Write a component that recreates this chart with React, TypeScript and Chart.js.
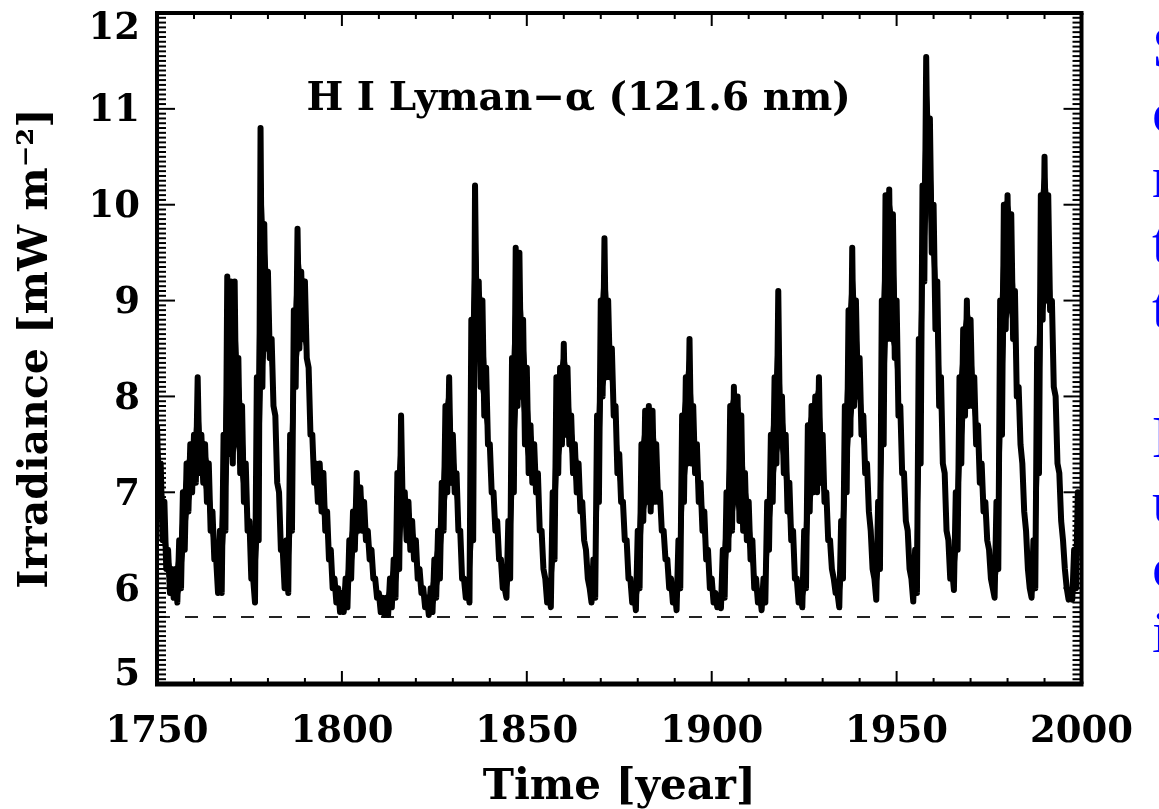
import React, { useEffect, useRef } from 'react';
import { Chart, registerables } from 'chart.js';

Chart.register(...registerables);

// ---- data ----
const START_YEAR = 1750;
// upper edge of the noisy trace, one value per year 1750..1999
const hiValues = [
  7.7, 7.3, 6.9, 6.4, 6.2, 6.2, 6.5, 7.0, 7.3, 7.5,
  7.6, 8.2, 7.6, 7.5, 7.3, 6.8, 6.3, 6.6, 7.6, 9.25,
  9.2, 9.2, 8.4, 7.9, 7.3, 6.7, 6.1, 8.2, 10.8, 9.8,
  9.3, 8.6, 7.8, 7.0, 6.4, 6.5, 7.6, 8.9, 9.75, 9.3,
  9.2, 8.3, 7.6, 7.3, 7.3, 7.2, 6.8, 6.4, 6.1, 6.0,
  5.95, 6.1, 6.5, 6.8, 7.2, 7.05, 6.9, 6.6, 6.4, 6.1,
  5.95, 5.9, 5.9, 6.1, 6.3, 7.2, 7.8, 7.0, 6.9, 6.7,
  6.5, 6.2, 6.0, 5.9, 6.0, 6.3, 6.6, 7.1, 7.9, 8.2,
  7.6, 7.2, 6.6, 6.1, 6.0, 8.8, 10.2, 9.2, 9.0, 8.3,
  7.5, 7.0, 6.7, 6.3, 6.0, 6.7, 8.4, 9.55, 9.5, 8.8,
  8.3, 7.7, 7.5, 7.2, 6.6, 6.1, 5.95, 7.0, 8.2, 8.3,
  8.55, 8.3, 7.8, 7.5, 7.3, 6.9, 6.4, 6.0, 6.3, 7.8,
  9.0, 9.65, 9.0, 8.5, 7.9, 7.4, 6.9, 6.5, 6.1, 5.95,
  6.6, 7.5, 7.85, 7.9, 7.85, 7.5, 7.0, 6.6, 6.3, 6.1,
  5.95, 6.5, 7.8, 8.2, 8.6, 7.9, 7.5, 7.1, 6.8, 6.4,
  6.1, 5.95, 5.9, 6.4, 7.0, 7.9, 8.1, 8.0, 7.8, 7.2,
  6.9, 6.5, 6.1, 5.95, 6.1, 6.9, 7.6, 8.2, 9.1, 8.0,
  7.6, 7.1, 6.6, 6.1, 5.95, 6.6, 7.7, 7.9, 8.0, 8.2,
  7.6, 7.0, 6.5, 6.1, 5.95, 6.7, 7.9, 8.9, 9.55, 9.0,
  8.4, 7.8, 7.3, 6.6, 6.1, 6.9, 9.0, 10.1, 10.16, 9.9,
  9.0, 7.9, 7.2, 6.6, 6.1, 6.4, 8.6, 10.2, 11.54, 10.9,
  10.0, 9.2, 8.2, 7.2, 6.5, 6.2, 7.0, 8.2, 8.7, 9.0,
  8.8, 8.2, 7.7, 7.3, 6.9, 6.4, 6.0, 6.9, 9.0, 10.0,
  10.1, 9.9, 9.1, 8.1, 7.3, 6.6, 6.0, 6.5, 8.5, 10.1,
  10.5, 10.1, 9.0, 8.0, 7.2, 6.5, 6.0, 5.95, 6.4, 7.0,
];
// lower edge of the noisy trace, one value per year (plotted half a year later)
const loValues = [
  7.0, 6.5, 6.2, 5.95, 5.9, 5.85, 6.0, 6.4, 6.8, 7.0,
  7.1, 7.2, 7.1, 6.9, 6.6, 6.3, 5.95, 5.95, 6.6, 7.4,
  7.3, 7.5, 7.2, 6.9, 6.6, 6.1, 5.85, 6.5, 8.1, 8.5,
  8.4, 7.9, 7.1, 6.4, 6.0, 5.95, 6.6, 8.1, 8.5, 8.6,
  8.4, 7.6, 7.1, 6.9, 6.8, 6.6, 6.3, 6.0, 5.85, 5.75,
  5.75, 5.8, 6.1, 6.4, 6.6, 6.6, 6.5, 6.3, 6.1, 5.9,
  5.75, 5.72, 5.72, 5.8, 5.9, 6.2, 6.7, 6.5, 6.4, 6.3,
  6.1, 5.95, 5.8, 5.72, 5.75, 5.9, 6.1, 6.6, 7.0, 7.1,
  7.0, 6.6, 6.1, 5.9, 5.85, 6.5, 8.5, 8.1, 7.8, 7.5,
  7.0, 6.6, 6.3, 6.0, 5.9, 6.1, 7.0, 7.9, 8.0, 7.5,
  7.2, 7.1, 7.0, 6.6, 6.2, 5.85, 5.8, 6.3, 7.2, 7.5,
  7.6, 7.5, 7.2, 7.0, 6.8, 6.5, 6.1, 5.85, 5.9, 6.9,
  8.0, 8.2, 8.2, 7.8, 7.2, 6.9, 6.5, 6.1, 5.85, 5.77,
  6.0, 6.7, 6.9, 6.8, 6.9, 6.9, 6.6, 6.3, 6.0, 5.85,
  5.77, 6.0, 6.9, 7.3, 7.3, 7.2, 6.9, 6.6, 6.3, 6.0,
  5.85, 5.8, 5.79, 5.9, 6.4, 6.6, 6.9, 6.7, 6.6, 6.5,
  6.3, 6.0, 5.85, 5.77, 5.85, 6.4, 6.9, 7.3, 7.5, 7.2,
  6.8, 6.5, 6.1, 5.85, 5.8, 6.0, 6.8, 7.0, 7.0, 7.1,
  6.9, 6.5, 6.2, 5.95, 5.8, 6.1, 7.0, 7.6, 7.9, 8.0,
  7.6, 7.2, 6.8, 6.2, 5.88, 6.2, 7.5, 8.6, 8.6, 8.4,
  7.8, 7.2, 6.7, 6.2, 5.86, 5.95, 7.3, 9.2, 10.0, 9.5,
  8.7, 7.9, 7.3, 6.6, 6.1, 5.98, 6.4, 7.3, 7.8, 7.9,
  7.9, 7.5, 7.1, 6.8, 6.5, 6.1, 5.9, 6.2, 7.6, 8.7,
  8.9, 8.6, 8.0, 7.5, 6.8, 6.2, 5.9, 6.0, 7.2, 8.8,
  9.0, 8.9, 8.1, 7.3, 6.7, 6.2, 5.88, 5.88, 6.0, 6.4,
];
const referenceLevel = 5.7; // dashed line
const xRange = [1750, 2000];
const yRange = [5, 12];
const xTickLabels = [1750, 1800, 1850, 1900, 1950, 2000];
const yTickLabels = [5, 6, 7, 8, 9, 10, 11, 12];
const panelLabel = 'H I Lyman\u2212\u03b1 (121.6 nm)';
const panelLabelAt = { year: 1790.4, level: 10.99 };
const xTitle = 'Time [year]';
const yTitle = 'Irradiance [mW m\u207b\u00b2]';
const sideText = ['Solar', 'cycle', 'reconstruction', 'the', 'the', '', 'Lyman', 'using', 'closely', 'index'];

const FONT = '"DejaVu Serif", serif';

const framePlugin = {
  id: 'idlFrame',
  afterDatasetsDraw(chart: any) {
    const { ctx, chartArea, scales } = chart;
    const { left, right, top, bottom } = chartArea;
    const x = scales.x;
    const y = scales.y;
    const seg = (x1: number, y1: number, x2: number, y2: number) => {
      ctx.beginPath();
      ctx.moveTo(x1, y1);
      ctx.lineTo(x2, y2);
      ctx.stroke();
    };
    ctx.save();
    ctx.strokeStyle = '#000';
    ctx.fillStyle = '#000';
    ctx.lineWidth = 2;
    // y minor/major ticks, inward on both sides
    for (let i = 0; i <= (yRange[1] - yRange[0]) * 20; i++) {
      const v = yRange[0] + i / 20;
      const py = y.getPixelForValue(v);
      const len = i % 20 === 0 ? 18 : 9;
      seg(left, py, left + len, py);
      seg(right, py, right - len, py);
    }
    // x ticks every 10 years
    for (let yr = xRange[0]; yr <= xRange[1]; yr += 10) {
      const px = x.getPixelForValue(yr);
      const len = yr % 50 === 0 ? 13 : 6;
      seg(px, bottom, px, bottom - len);
      seg(px, top, px, top + len);
    }
    // frame
    ctx.lineWidth = 4;
    seg(left - 2, top, right + 2, top);
    seg(left, top, left, bottom);
    seg(right, top, right, bottom);
    ctx.lineWidth = 5;
    seg(left - 2, bottom, right + 2, bottom);
    // y tick labels
    ctx.font = `bold 37px ${FONT}`;
    ctx.textAlign = 'right';
    ctx.textBaseline = 'middle';
    yTickLabels.forEach((v) => {
      let py = y.getPixelForValue(v) + 3;
      py = Math.min(Math.max(py, top + 16), bottom - 9);
      ctx.fillText(String(v), left - 17, py);
    });
    // panel label
    ctx.font = `bold 39px ${FONT}`;
    ctx.textAlign = 'left';
    ctx.textBaseline = 'alphabetic';
    ctx.fillText(panelLabel, x.getPixelForValue(panelLabelAt.year), y.getPixelForValue(panelLabelAt.level));
    ctx.restore();
  },
};

export default function App() {
  const ref = useRef<HTMLCanvasElement | null>(null);

  useEffect(() => {
    if (!ref.current) return;
    const hiPts = hiValues.map((h, i) => ({ x: START_YEAR + i, y: h }));
    const loPts = loValues.map((l, i) => ({ x: START_YEAR + i + 0.5, y: l }));
    const trace: { x: number; y: number }[] = [];
    hiPts.forEach((p, i) => {
      trace.push(p);
      trace.push(loPts[i]);
    });
    const chart = new Chart(ref.current, {
      type: 'line',
      data: {
        datasets: [
          {
            data: [
              { x: xRange[0], y: referenceLevel },
              { x: xRange[1], y: referenceLevel },
            ],
            borderColor: '#222',
            borderWidth: 2,
            borderDash: [13, 15],
            pointRadius: 0,
            fill: false,
            order: 4,
          },
          {
            data: hiPts,
            borderColor: '#000',
            borderWidth: 1,
            pointRadius: 0,
            fill: false,
            order: 3,
          },
          {
            data: loPts,
            borderColor: '#000',
            borderWidth: 1,
            pointRadius: 0,
            fill: '-1',
            backgroundColor: '#000',
            order: 2,
          },
          {
            data: trace,
            borderColor: '#000',
            borderWidth: 6,
            borderJoinStyle: 'round',
            pointRadius: 0,
            tension: 0,
            fill: false,
            order: 1,
          },
        ],
      },
      options: {
        responsive: false,
        animation: false,
        devicePixelRatio: 1,
        layout: { padding: { left: 0, right: 54, top: 13, bottom: 0 } },
        plugins: {
          legend: { display: false },
          tooltip: { enabled: false },
        },
        scales: {
          x: {
            type: 'linear',
            min: xRange[0],
            max: xRange[1],
            border: { display: false },
            grid: { display: false, drawTicks: false },
            ticks: {
              stepSize: 50,
              autoSkip: false,
              maxRotation: 0,
              padding: 26,
              color: '#000',
              font: { family: FONT, size: 37, weight: 'bold' },
              callback: (v: any) => (xTickLabels.includes(Number(v)) ? String(v) : ''),
            },
            title: {
              display: true,
              text: xTitle,
              color: '#000',
              font: { family: FONT, size: 42, weight: 'bold' },
              padding: { top: 0, bottom: -4 },
            },
            afterFit: (s: any) => {
              s.height = 125;
            },
          },
          y: {
            type: 'linear',
            min: yRange[0],
            max: yRange[1],
            border: { display: false },
            grid: { display: false, drawTicks: false },
            ticks: { display: false, stepSize: 1 },
            title: {
              display: true,
              text: yTitle,
              color: '#000',
              font: { family: FONT, size: 41, weight: 'bold' },
              padding: { top: 12, bottom: 0 },
            },
            afterFit: (s: any) => {
              s.width = 157;
            },
          },
        },
      },
      plugins: [framePlugin],
    } as any);
    return () => chart.destroy();
  }, []);

  return (
    <div
      style={{
        position: 'fixed',
        left: 0,
        top: 0,
        width: 1159,
        height: 809,
        overflow: 'hidden',
        background: '#fff',
      }}
    >
      <canvas ref={ref} width={1159} height={809} style={{ position: 'absolute', left: 0, top: 0, width: 1159, height: 809 }} />
      <div
        style={{
          position: 'absolute',
          left: 1152,
          top: 15,
          fontFamily: '"Liberation Serif", serif',
          fontSize: 60,
          lineHeight: '65px',
          color: '#0000ff',
          whiteSpace: 'nowrap',
        }}
      >
        {sideText.map((w, i) => (
          <div key={i} style={{ height: 65 }}>
            {w}
          </div>
        ))}
      </div>
    </div>
  );
}
